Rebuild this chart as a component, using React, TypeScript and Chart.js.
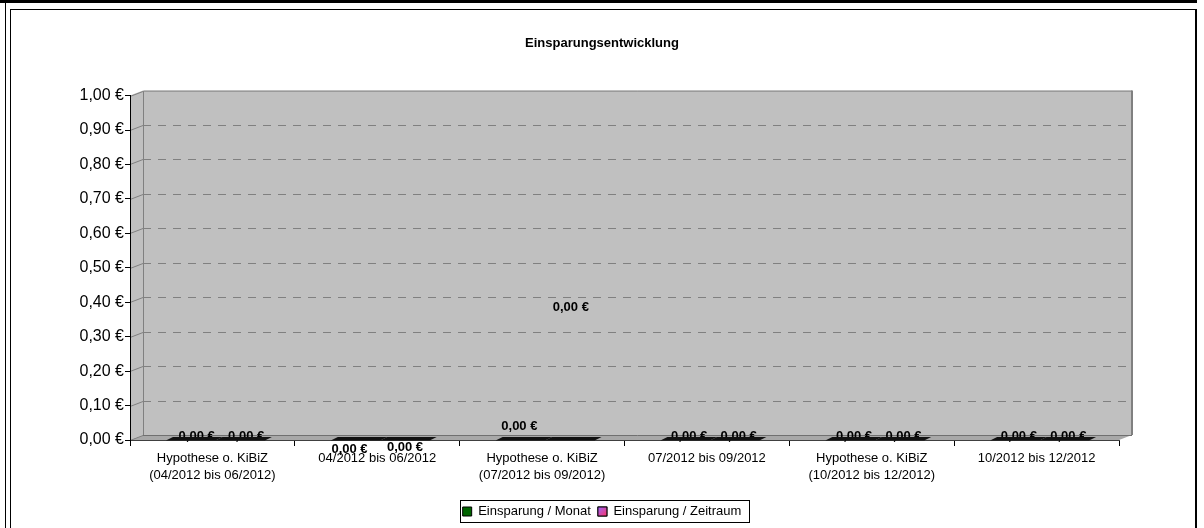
import React, { useEffect, useRef } from 'react';
import { Chart, registerables } from 'chart.js';

Chart.register(...registerables);

const TITLE = 'Einsparungsentwicklung';
const CATEGORIES: (string | string[])[] = [
  ['Hypothese o. KiBiZ', '(04/2012 bis 06/2012)'],
  '04/2012 bis 06/2012',
  ['Hypothese o. KiBiZ', '(07/2012 bis 09/2012)'],
  '07/2012 bis 09/2012',
  ['Hypothese o. KiBiZ', '(10/2012 bis 12/2012)'],
  '10/2012 bis 12/2012',
];
const SERIES_NAMES = ['Einsparung / Monat', 'Einsparung / Zeitraum'];
const EINSPARUNG_MONAT = [0, 0, 0, 0, 0, 0];
const EINSPARUNG_ZEITRAUM = [0, 0, 0, 0, 0, 0];
const Y_MIN = 0;
const Y_MAX = 1;
const Y_STEP = 0.1;

const FONT = '"Liberation Sans", Arial, sans-serif';
const COLOR_MONAT = '#006400';
const COLOR_ZEITRAUM = '#cc3399';

// Excel's odd data-label placements, as pixel nudges [dx, dy] per series / category
const LABEL_NUDGE: number[][][] = [
  [[2, -1], [-10, 12], [-5, -11], [0, -1], [0, -1], [0, -1]],
  [[2, -1], [-4, 10], [-3, -130], [0, -1], [0, -1], [0, -1]],
];

const DEPTH_X = 13;
const DEPTH_Y = -5;

const fmtEuro = (v: number) => v.toFixed(2).replace('.', ',') + ' €';

const excel3d = {
  id: 'excel3d',
  beforeDraw(chart: any) {
    const { ctx, chartArea: ca, scales } = chart;
    const y = scales.y;
    const W = chart.width;
    const H = chart.height;
    ctx.save();
    ctx.fillStyle = '#ffffff';
    ctx.fillRect(0, 0, W, H);
    // page frame
    ctx.fillStyle = '#000';
    ctx.fillRect(0, 0, W - 7, 3);
    ctx.fillRect(5, 3, 1, H);
    ctx.fillRect(10, 9, W - 18, 1);
    ctx.fillRect(10, 9, 1, H);
    ctx.fillRect(W - 9, 9, 2, H);

    const L = ca.left, R = ca.right, T = ca.top, B = ca.bottom;
    // back wall
    ctx.fillStyle = '#c0c0c0';
    ctx.fillRect(L + DEPTH_X, T + DEPTH_Y, R - L, B - T);
    // side wall
    ctx.beginPath();
    ctx.moveTo(L, T);
    ctx.lineTo(L + DEPTH_X, T + DEPTH_Y);
    ctx.lineTo(L + DEPTH_X, B + DEPTH_Y);
    ctx.lineTo(L, B);
    ctx.closePath();
    ctx.fill();
    // floor
    ctx.fillStyle = '#a8a8a8';
    ctx.beginPath();
    ctx.moveTo(L, B);
    ctx.lineTo(L + DEPTH_X, B + DEPTH_Y);
    ctx.lineTo(R + DEPTH_X, B + DEPTH_Y);
    ctx.lineTo(R, B);
    ctx.closePath();
    ctx.fill();

    // gridlines on back wall + connectors on side wall
    ctx.lineWidth = 1;
    ctx.strokeStyle = '#808080';
    y.ticks.forEach((t: any) => {
      const yy = Math.round(y.getPixelForValue(t.value)) + 0.5;
      ctx.setLineDash([]);
      ctx.beginPath();
      ctx.moveTo(L, yy);
      ctx.lineTo(L + DEPTH_X, yy + DEPTH_Y);
      ctx.stroke();
      if (t.value > Y_MIN && t.value < Y_MAX) {
        ctx.setLineDash([8, 7]);
        ctx.beginPath();
        ctx.moveTo(L + DEPTH_X, yy + DEPTH_Y);
        ctx.lineTo(R + DEPTH_X, yy + DEPTH_Y);
        ctx.stroke();
      }
    });
    ctx.setLineDash([]);
    // wall outlines
    ctx.strokeStyle = '#808080';
    ctx.beginPath();
    ctx.moveTo(L + DEPTH_X + 0.5, B + DEPTH_Y);
    ctx.lineTo(L + DEPTH_X + 0.5, T + DEPTH_Y + 0.5);
    ctx.lineTo(R + DEPTH_X, T + DEPTH_Y + 0.5);
    ctx.stroke();
    ctx.lineWidth = 2;
    ctx.beginPath();
    ctx.moveTo(R + DEPTH_X, T + DEPTH_Y);
    ctx.lineTo(R + DEPTH_X, B + DEPTH_Y);
    ctx.stroke();
    ctx.lineWidth = 1;
    ctx.strokeStyle = '#707070';
    ctx.beginPath();
    ctx.moveTo(L + DEPTH_X, B + DEPTH_Y + 0.5);
    ctx.lineTo(R + DEPTH_X, B + DEPTH_Y + 0.5);
    ctx.stroke();
    ctx.restore();
  },
  afterDatasetsDraw(chart: any) {
    const { ctx, scales } = chart;
    const y = scales.y;
    const base = y.getPixelForValue(0);
    ctx.save();
    // data labels
    ctx.font = 'bold 13px ' + FONT;
    ctx.fillStyle = '#000';
    ctx.textAlign = 'center';
    ctx.textBaseline = 'middle';
    chart.data.datasets.forEach((ds: any, di: number) => {
      const meta = chart.getDatasetMeta(di);
      meta.data.forEach((bar: any, i: number) => {
        const { x } = bar.getProps(['x'], true);
        const yv = y.getPixelForValue(ds.data[i]);
        const [ndx, ndy] = LABEL_NUDGE[di][i];
        ctx.fillText(fmtEuro(ds.data[i]), x + 7 + ndx, yv - 3 + ndy);
      });
    });
    // flat 3D columns (drawn over the labels, as in the original)
    chart.data.datasets.forEach((ds: any, di: number) => {
      const meta = chart.getDatasetMeta(di);
      meta.data.forEach((bar: any, i: number) => {
        const { x, width } = bar.getProps(['x', 'width'], true);
        const yv = y.getPixelForValue(ds.data[i]);
        const l = x - width / 2, r = x + width / 2;
        if (base - yv > 1) {
          ctx.fillStyle = ds.backgroundColor;
          ctx.fillRect(l + 3, yv, width, base - yv);
        }
        ctx.fillStyle = '#111';
        ctx.beginPath();
        ctx.moveTo(l + 3, yv + 0.5);
        ctx.lineTo(r + 3, yv + 0.5);
        ctx.lineTo(r + 10, yv - 3);
        ctx.lineTo(l + 10, yv - 3);
        ctx.closePath();
        ctx.fill();
      });
    });
    ctx.restore();
  },
  afterDraw(chart: any) {
    const { ctx } = chart;
    const legend = chart.legend;
    if (!legend || !legend.legendHitBoxes || !legend.legendHitBoxes.length) return;
    const hbs = legend.legendHitBoxes;
    const minL = Math.min(...hbs.map((h: any) => h.left));
    const maxR = Math.max(...hbs.map((h: any) => h.left + h.width));
    const top = hbs[0].top;
    ctx.save();
    // gradient marker for second series
    const hb = hbs[1];
    const bx = hb.left, by = hb.top + 2;
    const g = ctx.createLinearGradient(bx, by, bx + 9, by + 9);
    g.addColorStop(0, '#9966ff');
    g.addColorStop(1, '#ff3366');
    ctx.fillStyle = g;
    ctx.fillRect(bx, by, 9, 9);
    ctx.strokeStyle = '#000';
    ctx.lineWidth = 1;
    ctx.strokeRect(bx, by, 9, 9);
    // legend frame
    ctx.strokeRect(Math.round(minL - 3) + 0.5, Math.round(top - 5) + 0.5, Math.round(maxR - minL + 10), 22);
    ctx.restore();
  },
};

export default function App() {
  const ref = useRef<HTMLCanvasElement>(null);
  useEffect(() => {
    const canvas = ref.current;
    if (!canvas) return;
    const chart = new Chart(canvas, {
      type: 'bar',
      data: {
        labels: CATEGORIES,
        datasets: [
          { label: SERIES_NAMES[0], data: EINSPARUNG_MONAT, backgroundColor: COLOR_MONAT, borderWidth: 0, categoryPercentage: 0.6, barPercentage: 1 },
          { label: SERIES_NAMES[1], data: EINSPARUNG_ZEITRAUM, backgroundColor: COLOR_ZEITRAUM, borderWidth: 0, categoryPercentage: 0.6, barPercentage: 1 },
        ],
      },
      options: {
        animation: false,
        responsive: true,
        maintainAspectRatio: false,
        events: [],
        layout: { padding: { left: 0, right: 0, top: 0, bottom: 0 } },
        plugins: {
          tooltip: { enabled: false },
          title: {
            display: true,
            text: TITLE,
            color: '#000',
            font: { family: FONT, size: 13, weight: 'bold' },
            padding: { top: 36, bottom: 44 },
          },
          legend: {
            display: true,
            position: 'bottom',
            labels: {
              color: '#000',
              font: { family: FONT, size: 13 },
              boxWidth: 9,
              boxHeight: 9,
              padding: 7,
              generateLabels: (ch: any) =>
                ch.data.datasets.map((ds: any, i: number) => ({
                  text: ds.label,
                  fillStyle: ds.backgroundColor,
                  strokeStyle: '#000',
                  lineWidth: 1,
                  hidden: false,
                  datasetIndex: i,
                  fontColor: '#000',
                })),
            },
          },
        },
        scales: {
          x: {
            offset: true,
            grid: { drawOnChartArea: false, tickLength: 6, color: '#000', offset: true },
            border: { color: '#404040' },
            ticks: {
              color: '#000',
              font: { family: FONT, size: 13, lineHeight: 1.3 },
              padding: 4,
              maxRotation: 0,
              autoSkip: false,
            },
            afterFit: (s: any) => { s.height = 58; },
          },
          y: {
            min: Y_MIN,
            max: Y_MAX,
            grid: { drawOnChartArea: false, tickLength: 5, color: '#000' },
            border: { color: '#000' },
            ticks: {
              stepSize: Y_STEP,
              color: '#000',
              padding: 1,
              font: { family: FONT, size: 16 },
              callback: (v: any) => fmtEuro(Number(v)),
            },
            afterFit: (s: any) => { s.width = 130; },
          },
          yRightSpace: {
            type: 'linear',
            position: 'right',
            display: true,
            grid: { display: false },
            border: { display: false },
            ticks: { display: false },
            afterFit: (s: any) => { s.width = 85; },
          },
        },
      },
      plugins: [excel3d],
    } as any);
    return () => chart.destroy();
  }, []);
  return (
    <div style={{ position: 'absolute', left: 0, top: 0, width: 1204, height: 528 }}>
      <canvas ref={ref} />
    </div>
  );
}
